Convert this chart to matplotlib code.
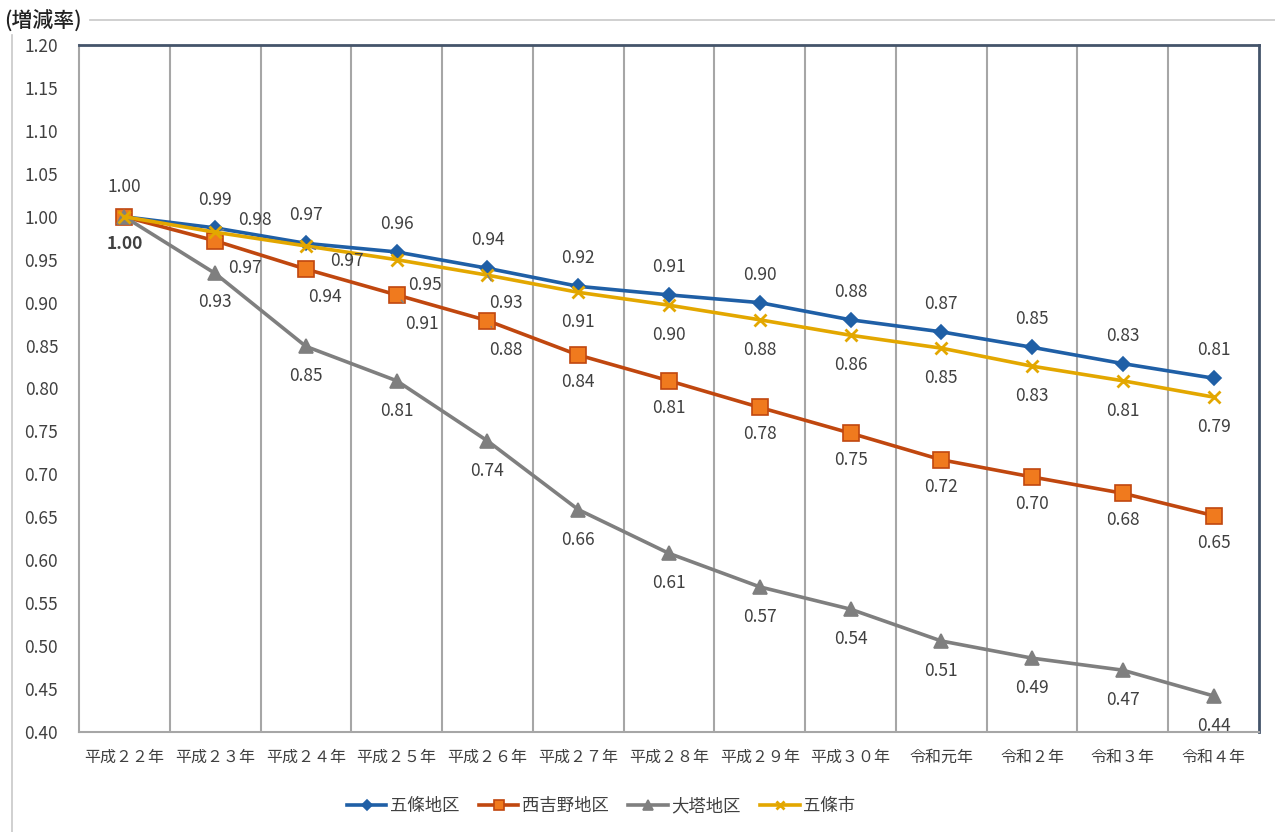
import matplotlib
matplotlib.use("Agg")
import matplotlib.pyplot as plt
from matplotlib.lines import Line2D

plt.rcParams['font.family'] = ['Noto Sans CJK JP', 'DejaVu Sans']

years = ["平成２２年", "平成２３年", "平成２４年", "平成２５年", "平成２６年", "平成２７年",
         "平成２８年", "平成２９年", "平成３０年", "令和元年", "令和２年", "令和３年", "令和４年"]

gojo_area = [1.00, 0.987, 0.969, 0.959, 0.940, 0.919, 0.909, 0.900, 0.880, 0.866, 0.848, 0.829, 0.812]
nishiyoshino = [1.00, 0.972, 0.939, 0.909, 0.879, 0.839, 0.809, 0.778, 0.748, 0.717, 0.697, 0.678, 0.652]
otou = [1.00, 0.934, 0.849, 0.809, 0.739, 0.659, 0.608, 0.569, 0.543, 0.506, 0.486, 0.472, 0.442]
gojo_city = [1.00, 0.982, 0.966, 0.950, 0.932, 0.912, 0.897, 0.880, 0.862, 0.847, 0.826, 0.809, 0.790]

names = ["五條地区", "西吉野地区", "大塔地区", "五條市"]

# label offsets in pixels (dx, dy with dy positive = down), None = no label
blue_off = [(0, -30)] + [(0, -28)] * 12
orange_off = [None, (30, 27), (19, 28), (25, 29), (18, 29)] + [(0, 27)] * 8
gray_off = [None] + [(0, 29)] + [(0, 30)] * 11
yellow_off = [(0, 27), (40, -12), (41, 15), (28, 25), (18, 28)] + [(0, 30)] * 8
blue_lead = []
orange_lead = [3, 4]
gray_lead = []
yellow_lead = [1, 2, 4]

fig = plt.figure(figsize=(12.75, 8.32), dpi=100)
ax = fig.add_axes([79 / 1275, 1 - 732 / 832, (1259 - 79) / 1275, (732 - 45) / 832])

x = list(range(len(years)))
series = [
    (gojo_area, "#1f5fa6", "#1f5fa6", "D", 7, blue_off, blue_lead),
    (nishiyoshino, "#c0470f", "#f07a1e", "s", 11, orange_off, orange_lead),
    (otou, "#7f7f7f", "#7f7f7f", "^", 10, gray_off, gray_lead),
    (gojo_city, "#e3a700", "#e3a700", "x", 9, yellow_off, yellow_lead),
]

for (vals, col, mcol, mk, ms, offs, lead), name in zip(series, names):
    ax.plot(x, vals, color=col, lw=2.6, marker=mk, ms=ms, mfc=mcol, mec=col,
            mew=2 if mk == "x" else 1.2, label=name, zorder=3)
    for i, v in enumerate(vals):
        if offs[i] is None:
            continue
        dx, dy = offs[i]
        bold = (name == "五條市" and i == 0)
        kw = {}
        if i in lead:
            kw["arrowprops"] = dict(arrowstyle="-", color="#808080", lw=1.0,
                                    shrinkA=9, shrinkB=5)
        ax.annotate(f"{v:.2f}", (i, v), xytext=(dx, -dy), textcoords="offset pixels",
                    ha="center", va="center", fontsize=12.5, color="#404040",
                    fontweight="bold" if bold else "normal", zorder=5, **kw)

ax.set_xlim(-0.5, len(years) - 0.5)
ax.set_ylim(0.40, 1.20)
ax.set_yticks([0.40 + 0.05 * k for k in range(17)])
ax.set_yticklabels([f"{0.40 + 0.05 * k:.2f}" for k in range(17)])
ax.set_xticks(x)
ax.set_xticklabels(years)
ax.tick_params(axis="y", length=0, pad=15, labelsize=12.5, labelcolor="#404040")
ax.tick_params(axis="x", length=0, pad=12, labelsize=11.5, labelcolor="#404040")

for b in range(1, len(years)):
    ax.axvline(b - 0.5, color="#a6a6a6", lw=1.5, zorder=1)

ax.spines["left"].set_color("#a6a6a6")
ax.spines["bottom"].set_color("#a6a6a6")
ax.spines["left"].set_linewidth(1.5)
ax.spines["bottom"].set_linewidth(1.5)
ax.spines["top"].set_color("#44546a")
ax.spines["right"].set_color("#44546a")
ax.spines["top"].set_linewidth(2)
ax.spines["right"].set_linewidth(2)

fig.text(4 / 1275, 1 - 22 / 832, "(増減率)", fontsize=15, ha="left", va="center",
         color="#222222", fontweight="medium")

fig.add_artist(Line2D([90 / 1275, 1], [1 - 20 / 832] * 2, transform=fig.transFigure,
                      color="#c8c8c8", lw=1.2))
fig.add_artist(Line2D([12 / 1275] * 2, [0, 1 - 35 / 832], transform=fig.transFigure,
                      color="#c8c8c8", lw=1.2))

fig.legend(loc="center", bbox_to_anchor=(601 / 1275, 1 - 806 / 832), ncol=4, frameon=False,
           fontsize=12.5, handlelength=2.3, columnspacing=1.1, handletextpad=0.2,
           markerscale=0.7, labelcolor="#404040")

fig.savefig("out.png", dpi=100)
